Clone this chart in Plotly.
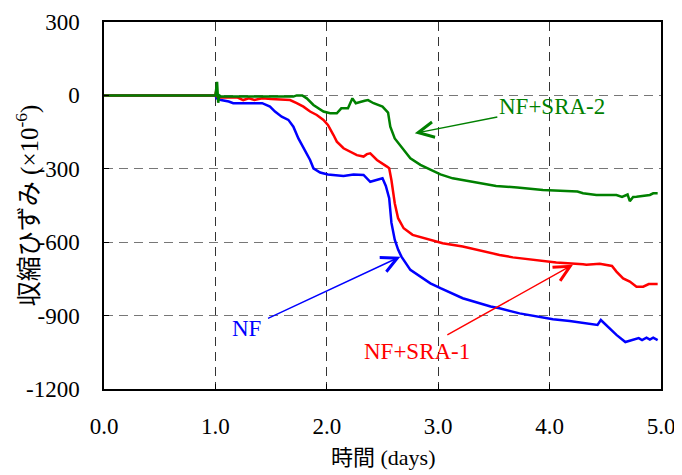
import plotly.graph_objects as go

# ---- data (days, shrinkage strain x1e-6) ----
nf_t = [0, 1.0, 1.01, 1.05, 1.12, 1.16, 1.42, 1.49, 1.535, 1.595, 1.655, 1.70, 1.745, 1.80, 1.85, 1.88,
        1.94, 2.01, 2.15, 2.24, 2.33, 2.39, 2.45, 2.50, 2.53, 2.56, 2.58, 2.61, 2.64, 2.67, 2.75, 2.84,
        2.93, 3.02, 3.22, 3.47, 3.55, 3.73, 3.88, 4.03, 4.18, 4.33, 4.43, 4.46, 4.54, 4.60, 4.68, 4.75,
        4.80, 4.83, 4.87, 4.90, 4.93, 4.97]
nf_v = [0, 0, -12, -19, -25, -32, -32, -46, -66, -87, -100, -128, -176, -223, -264, -298,
        -315, -323, -329, -323, -325, -353, -346, -339, -370, -420, -520, -590, -630, -659, -713, -741,
        -768, -788, -829, -863, -870, -891, -904, -915, -922, -931, -938, -918, -952, -979, -1008, -1000,
        -992, -1000, -990, -998, -990, -1000]

sra1_t = [0, 1.0, 1.005, 1.015, 1.03, 1.2, 1.25, 1.3, 1.35, 1.42, 1.5, 1.67, 1.73, 1.79, 1.85, 1.91,
          1.97, 2.01, 2.06, 2.09, 2.15, 2.21, 2.27, 2.33, 2.36, 2.39, 2.45, 2.54, 2.56, 2.58, 2.61, 2.64,
          2.69, 2.77, 2.93, 3.04, 3.22, 3.47, 3.55, 3.67, 3.85, 4.06, 4.30, 4.33, 4.45, 4.56, 4.60, 4.66,
          4.72, 4.78, 4.84, 4.89, 4.97]
sra1_v = [0, 0, 15, -5, -9, -9, -19, -12, -19, -12, -15, -19, -32, -46, -66, -80,
          -100, -121, -162, -189, -216, -230, -244, -250, -240, -237, -264, -291, -298, -346, -441, -502,
          -543, -570, -591, -604, -618, -645, -652, -662, -673, -683, -690, -692, -688, -697, -720, -748,
          -761, -782, -782, -771, -771]

sra2_t = [0, 1.0, 1.015, 1.025, 1.035, 1.05, 1.70, 1.73, 1.78, 1.82, 1.88, 1.97, 2.03, 2.09, 2.13,
          2.19, 2.23, 2.26, 2.34, 2.37, 2.42, 2.50, 2.55, 2.57, 2.61, 2.67, 2.75, 2.84, 2.93, 3.02,
          3.13, 3.31, 3.52, 3.71, 3.94, 4.25, 4.30, 4.42, 4.60, 4.65, 4.70, 4.72, 4.75, 4.78, 4.90,
          4.93, 4.97]
sra2_v = [0, 0, 55, -30, 0, -5, -5, 0, 0, -12, -39, -66, -73, -73, -53,
          -53, -12, -32, -22, -19, -32, -46, -70, -128, -176, -210, -257, -284, -305, -323,
          -339, -353, -370, -376, -387, -393, -400, -407, -407, -415, -405, -432, -415, -414, -407,
          -400, -400]

x_ticks = [0, 1, 2, 3, 4, 5]
x_labels = ["0.0", "1.0", "2.0", "3.0", "4.0", "5.0"]
y_ticks = [300, 0, -300, -600, -900, -1200]
y_labels = ["300", "0", "-300", "-600", "-900", "-1200"]

x_title = "時間 (days)"
y_title = "収縮ひずみ (×10<sup>-6</sup>)"

FONT = "Liberation Serif"
FONT_JP = "Liberation Serif, Noto Sans CJK JP"

fig = go.Figure()
fig.add_trace(go.Scatter(x=nf_t, y=nf_v, mode="lines", line=dict(color="#0000FF", width=2.5), name="NF"))
fig.add_trace(go.Scatter(x=sra1_t, y=sra1_v, mode="lines", line=dict(color="#FF0000", width=2.5), name="NF+SRA-1"))
fig.add_trace(go.Scatter(x=sra2_t, y=sra2_v, mode="lines", line=dict(color="#008000", width=2.5), name="NF+SRA-2"))

# labels with arrows: text placed at (lx, ly), arrow head at (hx, hy)
labels = [
    dict(lx=4.02, ly=-44, hx=2.79, hy=-155, text="NF+SRA-2", color="#008000", ss=0),
    dict(lx=1.28, ly=-952, hx=2.66, hy=-659, text="NF", color="#0000FF", ss=6),
    dict(lx=2.81, ly=-1048, hx=4.21, hy=-692, text="NF+SRA-1", color="#FF0000", ss=6),
]
for l in labels:
    fig.add_annotation(x=l["hx"], y=l["hy"], ax=l["lx"], ay=l["ly"], xref="x", yref="y",
                       axref="x", ayref="y", text=l["text"], showarrow=True,
                       arrowhead=5, arrowsize=2.2, arrowwidth=1.4, arrowcolor=l["color"],
                       startstandoff=l["ss"],
                       font=dict(family=FONT, size=23, color=l["color"]))

# axis titles
fig.add_annotation(x=0.5, y=-0.188, xref="paper", yref="paper", text=x_title, showarrow=False,
                   xanchor="center", yanchor="middle", font=dict(family=FONT_JP, size=22, color="black"))
fig.add_annotation(x=-0.137, y=0.5, xref="paper", yref="paper", text=y_title, showarrow=False,
                   textangle=-90, xanchor="center", yanchor="middle",
                   font=dict(family=FONT_JP, size=25, color="black"))

# page body has an 8px default margin, so the figure is drawn 8px smaller
fig.update_layout(
    width=674, height=467,
    margin=dict(l=96, r=21, t=14, b=86),
    paper_bgcolor="white", plot_bgcolor="white",
    showlegend=False,
    font=dict(family=FONT, size=22, color="black"),
)
fig.update_xaxes(
    range=[0, 5], tickvals=x_ticks, ticktext=x_labels, automargin=False,
    showline=True, mirror=True, linecolor="black", linewidth=1.5,
    ticks="inside", ticklen=5, tickcolor="black", ticklabelstandoff=16,
    tickfont=dict(family=FONT, size=23),
    showgrid=True, gridcolor="#333333", gridwidth=1, griddash="9px,6px",
    zeroline=False,
)
fig.update_yaxes(
    range=[-1200, 300], tickvals=y_ticks, ticktext=y_labels, automargin=False,
    showline=True, mirror=True, linecolor="black", linewidth=1.5,
    ticks="inside", ticklen=5, tickcolor="black", ticklabelstandoff=18,
    tickfont=dict(family=FONT, size=23),
    showgrid=True, gridcolor="#777777", gridwidth=1, griddash="9px,6px",
    zeroline=False,
)

fig.write_html("out.html")
